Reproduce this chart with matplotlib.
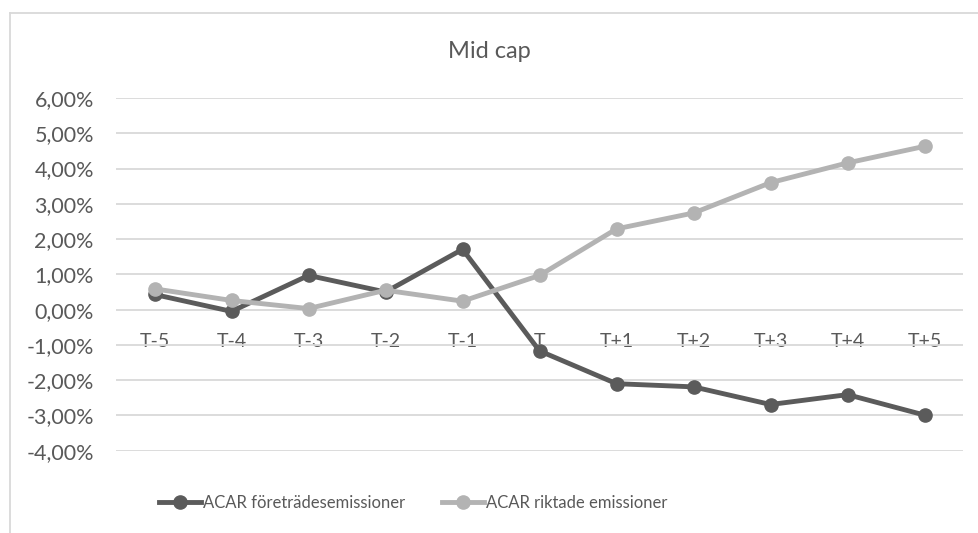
import matplotlib.pyplot as plt
from matplotlib.lines import Line2D
from matplotlib.ticker import FuncFormatter, MultipleLocator

plt.rcParams['font.family'] = ['Lato', 'DejaVu Sans']

# event window and average CAR (in percent)
days = ['T-5', 'T-4', 'T-3', 'T-2', 'T-1', 'T', 'T+1', 'T+2', 'T+3', 'T+4', 'T+5']
acar_foretrade = [0.43, -0.05, 0.97, 0.50, 1.71, -1.17, -2.10, -2.19, -2.69, -2.41, -2.99]
acar_riktade = [0.59, 0.26, 0.03, 0.55, 0.24, 0.97, 2.29, 2.74, 3.60, 4.16, 4.63]

text_col = '#595959'
grid_col = '#d9d9d9'

fig = plt.figure(figsize=(9.79, 5.33), dpi=100)
ax = fig.add_axes([0.1185, 0.1544, 0.8652, 0.6617])

x = range(len(days))
ax.plot(x, acar_foretrade, color='#5b5b5b', lw=3.5, marker='o', ms=9.5,
        label='ACAR företrädesemissioner', zorder=3)
ax.plot(x, acar_riktade, color='#b3b3b3', lw=3.5, marker='o', ms=9.5,
        label='ACAR riktade emissioner', zorder=4)

ax.set_xlim(-0.5, len(days) - 0.5)
ax.set_ylim(-4, 6)
ax.yaxis.set_major_locator(MultipleLocator(1))
ax.yaxis.set_major_formatter(FuncFormatter(lambda v, p: f'{v:.2f}%'.replace('.', ',')))
ax.grid(axis='y', color=grid_col, lw=1.3)
ax.set_axisbelow(True)

# category labels sit just under the zero line
ax.set_xticks(list(x))
ax.set_xticklabels(days)
ax.spines['bottom'].set_position(('data', 0))
for s in ax.spines.values():
    s.set_visible(False)
ax.tick_params(axis='x', length=0, pad=17, labelsize=14, labelcolor=text_col)
ax.tick_params(axis='y', length=0, pad=16, labelsize=15.5, labelcolor=text_col)

fig.text(0.5, 1 - 52 / 533, 'Mid cap', ha='center', va='center',
         fontsize=17, color=text_col)

fig.legend(loc='center', bbox_to_anchor=(0.422, 0.056), ncol=2, frameon=False,
           fontsize=12, labelcolor=text_col, handlelength=2.5, handletextpad=0.15,
           columnspacing=2.2)

# chart area outline
fig.add_artist(Line2D([9.5 / 979, 9.5 / 979], [0, 1 - 12.5 / 533],
                      transform=fig.transFigure, color=grid_col, lw=1.3))
fig.add_artist(Line2D([9.5 / 979, 1], [1 - 12.5 / 533, 1 - 12.5 / 533],
                      transform=fig.transFigure, color=grid_col, lw=1.3))

fig.savefig('out.png', dpi=100)
